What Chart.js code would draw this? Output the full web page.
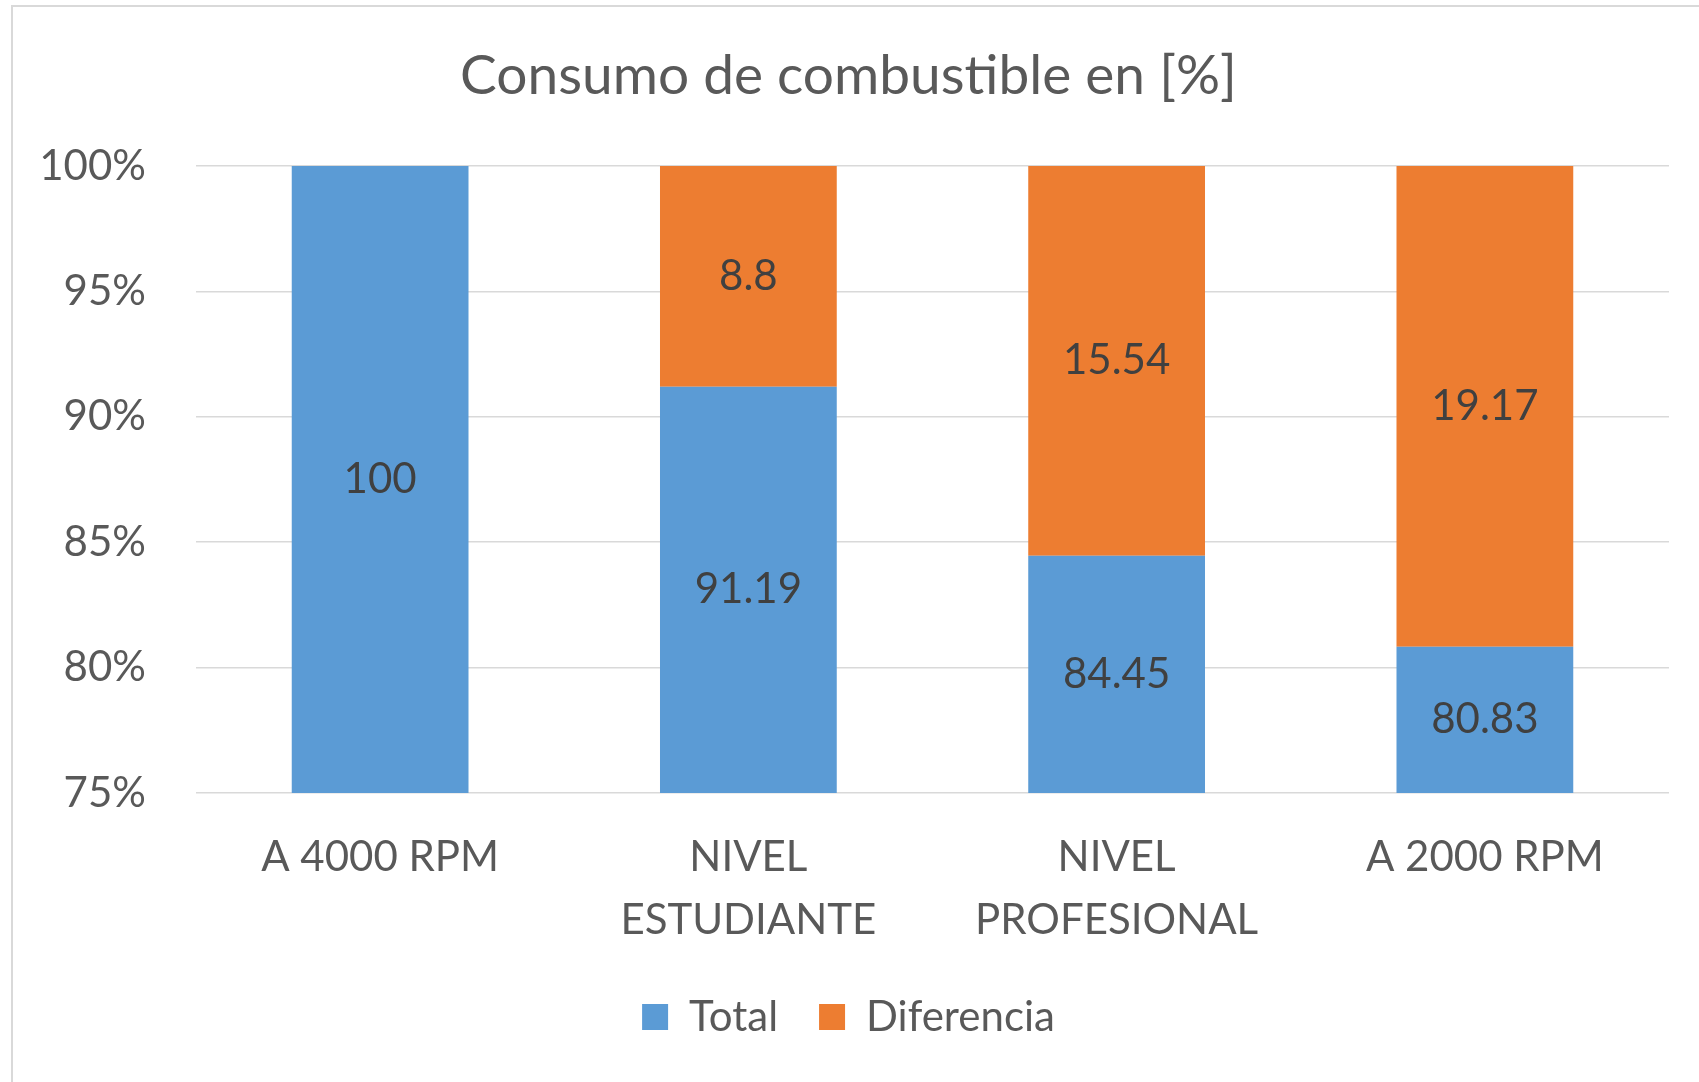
<!DOCTYPE html>
<html>
<head>
<meta charset="utf-8">
<title>Consumo de combustible</title>
<script src="https://cdn.jsdelivr.net/npm/chart.js@4.4.1/dist/chart.umd.min.js"></script>
<style>
  html, body { margin: 0; padding: 0; background: #fff; overflow: hidden; }
  #frame { position: absolute; left: 11px; top: 5px; width: 1760px; height: 1120px;
           border-left: 2px solid #d9d9d9; border-top: 2px solid #d9d9d9; }
  #wrap { position: absolute; left: 0; top: 0; width: 1699px; height: 1082px; }
</style>
</head>
<body>
<div id="frame"></div>
<div id="wrap"><canvas id="fuelChart"></canvas></div>
<script>
const categories = ['A 4000 RPM', ['NIVEL', 'ESTUDIANTE'], ['NIVEL', 'PROFESIONAL'], 'A 2000 RPM'];
const totalValues = [100, 91.19, 84.45, 80.83];
const diffValues = [0, 8.8, 15.54, 19.17];
const yTicks = [75, 80, 85, 90, 95, 100];

const FONT = 'Lato, "Open Sans", sans-serif';
const TEXT = '#595959';

// 100% stacked: each segment as a share of its column
const share = (vals, i) => vals[i] / (totalValues[i] + diffValues[i]) * 100;
const totalShare = totalValues.map((v, i) => share(totalValues, i));
const diffShare = diffValues.map((v, i) => share(diffValues, i));
const labelSets = [totalValues, diffValues];

// value labels in the middle of the visible part of each segment
const segmentLabels = {
  id: 'segmentLabels',
  afterDatasetsDraw(chart) {
    const { ctx, chartArea } = chart;
    ctx.save();
    ctx.font = '42px ' + FONT;
    ctx.fillStyle = '#404040';
    ctx.textAlign = 'center';
    ctx.textBaseline = 'middle';
    chart.data.datasets.forEach((ds, di) => {
      chart.getDatasetMeta(di).data.forEach((bar, i) => {
        const v = labelSets[di][i];
        if (!v) return;
        const top = Math.max(Math.min(bar.y, bar.base), chartArea.top);
        const bottom = Math.min(Math.max(bar.y, bar.base), chartArea.bottom);
        if (bottom <= top) return;
        ctx.fillText(String(v), bar.x, (top + bottom) / 2);
      });
    });
    ctx.restore();
  }
};

new Chart(document.getElementById('fuelChart'), {
  type: 'bar',
  data: {
    labels: categories,
    datasets: [
      { label: 'Total', data: totalShare, backgroundColor: '#5b9bd5' },
      { label: 'Diferencia', data: diffShare, backgroundColor: '#ed7d31' }
    ]
  },
  options: {
    responsive: true,
    maintainAspectRatio: false,
    animation: false,
    layout: { padding: { left: 28, right: 30, top: 0, bottom: 34 } },
    datasets: { bar: { categoryPercentage: 1, barPercentage: 0.48 } },
    plugins: {
      tooltip: { enabled: false },
      title: {
        display: true,
        text: 'Consumo de combustible en [%]',
        color: TEXT,
        font: { family: FONT, size: 55, weight: 'normal', lineHeight: 1.2 },
        padding: { top: 43, bottom: 57 }
      },
      legend: {
        position: 'bottom',
        labels: {
          color: TEXT,
          font: { family: FONT, size: 42 },
          boxWidth: 26,
          boxHeight: 26,
          padding: 41
        }
      }
    },
    scales: {
      x: {
        stacked: true,
        grid: { display: false, drawTicks: false },
        border: { display: false },
        ticks: { color: TEXT, font: { family: FONT, size: 42, lineHeight: 1.5 }, padding: 33, maxRotation: 0 },
        afterFit(scale) { scale.height = 162; }
      },
      y: {
        stacked: true,
        min: yTicks[0],
        max: yTicks[yTicks.length - 1],
        grid: { color: '#d9d9d9', lineWidth: 1.5, drawTicks: false },
        border: { display: false },
        ticks: {
          stepSize: yTicks[1] - yTicks[0],
          color: TEXT,
          font: { family: FONT, size: 42 },
          padding: 50,
          callback: v => v + '%'
        },
        afterFit(scale) { scale.width = 168; }
      }
    }
  },
  plugins: [segmentLabels]
});
</script>
</body>
</html>
